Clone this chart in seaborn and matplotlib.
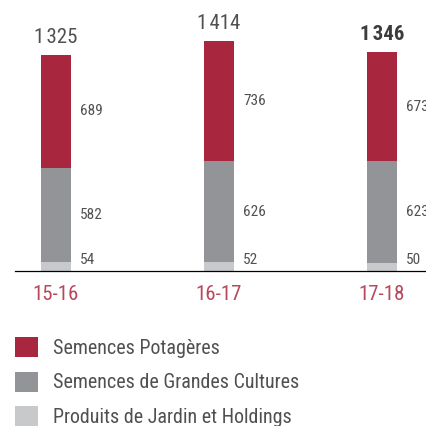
import matplotlib
matplotlib.use("Agg")
import matplotlib.pyplot as plt
import seaborn as sns
import pandas as pd

# data
years = ["15-16", "16-17", "17-18"]
potageres = [689, 736, 673]
grandes_cultures = [582, 626, 623]
jardin_holdings = [54, 52, 50]
totals = [1325, 1414, 1346]
series_names = ["Semences Potagères", "Semences de Grandes Cultures", "Produits de Jardin et Holdings"]

red = "#A9263F"
grey = "#939497"
light = "#C8C9CB"
txt = "#505050"

sns.set_style("white")
plt.rcParams['font.family'] = ['Roboto Condensed', 'DejaVu Sans']

df = pd.DataFrame({"year": years, "pot": potageres, "gc": grandes_cultures, "jh": jardin_holdings})
df["gc_cum"] = df["gc"] + df["jh"]
df["tot"] = df["pot"] + df["gc_cum"]

fig = plt.figure(figsize=(4.27, 4.26), dpi=100)
ax = fig.add_axes([0.035, 0.364, 0.965, 0.636])

w = 0.184
sns.barplot(data=df, x="year", y="tot", color=red, saturation=1, width=w, linewidth=0, ax=ax, label=series_names[0])
sns.barplot(data=df, x="year", y="gc_cum", color=grey, saturation=1, width=w, linewidth=0, ax=ax, label=series_names[1])
sns.barplot(data=df, x="year", y="jh", color=light, saturation=1, width=w, linewidth=0, ax=ax, label=series_names[2])

ax.set_xlim(-0.2515, 2.276)
ax.set_ylim(0, 1666)
for s in ["top", "left", "right"]:
    ax.spines[s].set_visible(False)
ax.spines["bottom"].set_color("black")
ax.spines["bottom"].set_linewidth(0.9)
ax.set_yticks([])
ax.set_xlabel("")
ax.set_ylabel("")
ax.tick_params(axis="x", length=0, pad=10, labelsize=15, labelcolor="#B8485A")

# segment labels
for i in range(len(years)):
    xl = i + w / 2 + 0.055
    ax.text(xl, df["gc_cum"][i] + df["pot"][i] / 2, str(potageres[i]), ha="left", va="center", fontsize=11, color=txt)
    ax.text(xl, df["jh"][i] + df["gc"][i] / 2, str(grandes_cultures[i]), ha="left", va="center", fontsize=11, color=txt)
    ax.text(xl, df["jh"][i] / 2 + 40, str(jardin_holdings[i]), ha="left", va="center", fontsize=11, color=txt, clip_on=False)
    lab = f"{totals[i] // 1000}\u200a{totals[i] % 1000:03d}"
    bold = i == len(years) - 1
    ax.annotate(lab, (i, df["tot"][i]), xytext=(0, 6), textcoords="offset points",
                ha="center", va="bottom", fontsize=15,
                fontweight="bold" if bold else "normal",
                color="#3c3c3c" if bold else txt)

handles, labels = ax.get_legend_handles_labels()
if ax.get_legend() is not None:
    ax.get_legend().remove()
fig.legend(handles, labels, loc="upper left", bbox_to_anchor=(0.035, 0.209), frameon=False,
           borderaxespad=0, borderpad=0, handlelength=1.15, handleheight=1.15,
           handletextpad=0.75, labelspacing=0.7, fontsize=14.4, labelcolor=txt)

fig.savefig("out.png", dpi=100)
